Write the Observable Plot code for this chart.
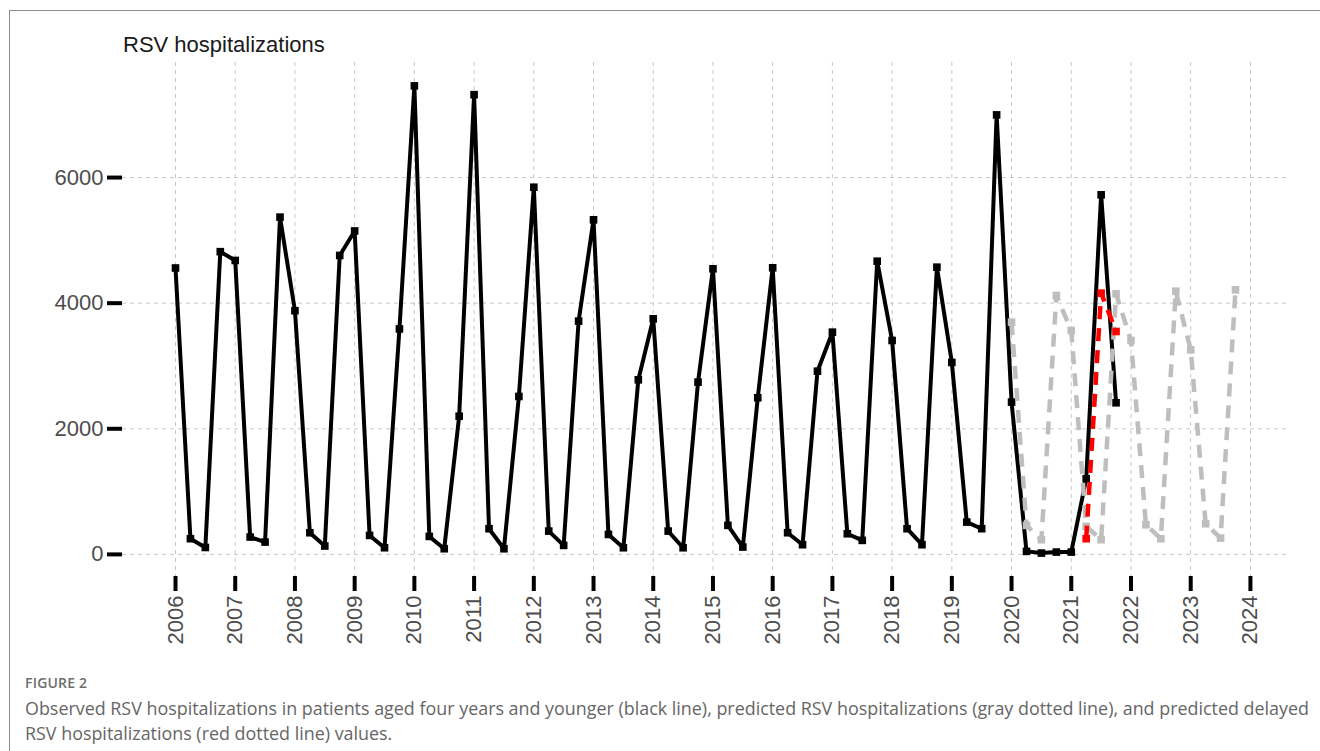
<!DOCTYPE html>
<html>
<head>
<meta charset="utf-8">
<script src="https://cdn.jsdelivr.net/npm/d3@7"></script>
<script src="https://cdn.jsdelivr.net/npm/@observablehq/plot@0.6"></script>
<style>
html, body { margin: 0; padding: 0; background: #fff; }
body { width: 1320px; height: 751px; overflow: hidden; position: relative; font-family: "Liberation Sans", Arial, sans-serif; }
#title { height: 58px; box-sizing: border-box; padding: 34px 0 0 123px; font-size: 22px; line-height: 22px; color: #1a1a1a; }
#chart svg { display: block; background: transparent; }
#caption { position: absolute; left: 25px; top: 674px; font-family: "Open Sans", Lato, sans-serif; color: #666; }
#caption .fig { font-size: 14px; line-height: 18px; font-weight: 600; letter-spacing: 0.2px; color: #6e6e6e; }
#caption .txt { font-size: 17.9px; line-height: 25px; margin-top: 4px; white-space: nowrap; }
#frame { position: absolute; left: 9px; top: 10px; width: 1400px; height: 800px; border-left: 1.5px solid #8c8c8c; border-top: 1.5px solid #8c8c8c; pointer-events: none; }
</style>
</head>
<body>
<div id="title">RSV hospitalizations</div>
<div id="chart"></div>
<div id="caption">
  <div class="fig">FIGURE 2</div>
  <div class="txt">Observed RSV hospitalizations in patients aged four years and younger (black line), predicted RSV hospitalizations (gray dotted line), and predicted delayed<br>RSV hospitalizations (red dotted line) values.</div>
</div>
<div id="frame"></div>
<script>
// Quarterly series (first quarter start given, one value per quarter)
const observedStart = 2006.0;
const observedValues = [
  4560, 250, 110, 4820,
  4680, 276, 196, 5370,
  3880, 345, 133, 4760,
  5150, 302, 106, 3590,
  7460, 286, 90, 2200,
  7320, 409, 90, 2515,
  5846, 371, 143, 3714,
  5327, 318, 106, 2780,
  3751, 371, 106, 2743,
  4547, 462, 117, 2494,
  4563, 345, 154, 2917,
  3538, 329, 223, 4668,
  3406, 409, 154, 4573,
  3056, 514, 409, 6998,
  2425, 48, 21, 37,
  37, 1204, 5725, 2414
];
const predictedStart = 2020.0;
const predictedValues = [
  3698, 462, 234, 4122,
  3565, 446, 234, 4149,
  3406, 472, 250, 4191,
  3258, 488, 260, 4212
];
const delayedStart = 2021.25;
const delayedValues = [250, 4160, 3549];

const yearTicks = [2006, 2007, 2008, 2009, 2010, 2011, 2012, 2013, 2014, 2015, 2016, 2017, 2018, 2019, 2020, 2021, 2022, 2023, 2024];
const yTicks = [0, 2000, 4000, 6000];

const toRows = (start, vals) => vals.map((v, i) => ({t: start + i * 0.25, v}));
const observed = toRows(observedStart, observedValues);
const predicted = toRows(predictedStart, predictedValues);
const delayed = toRows(delayedStart, delayedValues);

const gridStyle = {stroke: "#c8c8c8", strokeOpacity: 1, strokeWidth: 1, strokeDasharray: "4,4"};

const chart = Plot.plot({
  width: 1320,
  height: 592,
  marginLeft: 122,
  marginRight: 32,
  marginTop: 4,
  marginBottom: 74,
  style: {fontFamily: "Liberation Sans, Arial, sans-serif", fontSize: "22px", background: "transparent", overflow: "visible"},
  x: {domain: [2005.1125, 2024.6375]},
  y: {domain: [-352, 7832]},
  marks: [
    Plot.gridX(yearTicks, gridStyle),
    Plot.gridY(yTicks, gridStyle),
    Plot.axisX(yearTicks, {tickSize: 15, tickPadding: 4, tickRotate: -90, stroke: "#000", strokeWidth: 4, fill: "#4d4d4d", fontSize: 22, tickFormat: d => String(d), label: null}),
    Plot.axisY(yTicks, {tickSize: 15, tickPadding: 4, stroke: "#000", strokeWidth: 4, fill: "#4d4d4d", fontSize: 22, tickFormat: d => String(d), label: null}),
    Plot.line(observed, {x: "t", y: "v", stroke: "#000", strokeWidth: 4, strokeLinejoin: "round", strokeLinecap: "butt"}),
    Plot.dot(observed, {x: "t", y: "v", symbol: "square", r: 4.3, fill: "#000"}),
    Plot.line(predicted, {x: "t", y: "v", stroke: "#bebebe", strokeWidth: 4.5, strokeDasharray: "13,9", strokeLinejoin: "round", strokeLinecap: "butt"}),
    Plot.dot(predicted, {x: "t", y: "v", symbol: "square", r: 4.3, fill: "#bebebe"}),
    Plot.line(delayed, {x: "t", y: "v", stroke: "#ff0000", strokeWidth: 4.5, strokeDasharray: "13,9", strokeLinejoin: "round", strokeLinecap: "butt"}),
    Plot.dot(delayed, {x: "t", y: "v", symbol: "square", r: 4.3, fill: "#ff0000"})
  ]
});
document.getElementById("chart").appendChild(chart);
</script>
</body>
</html>
